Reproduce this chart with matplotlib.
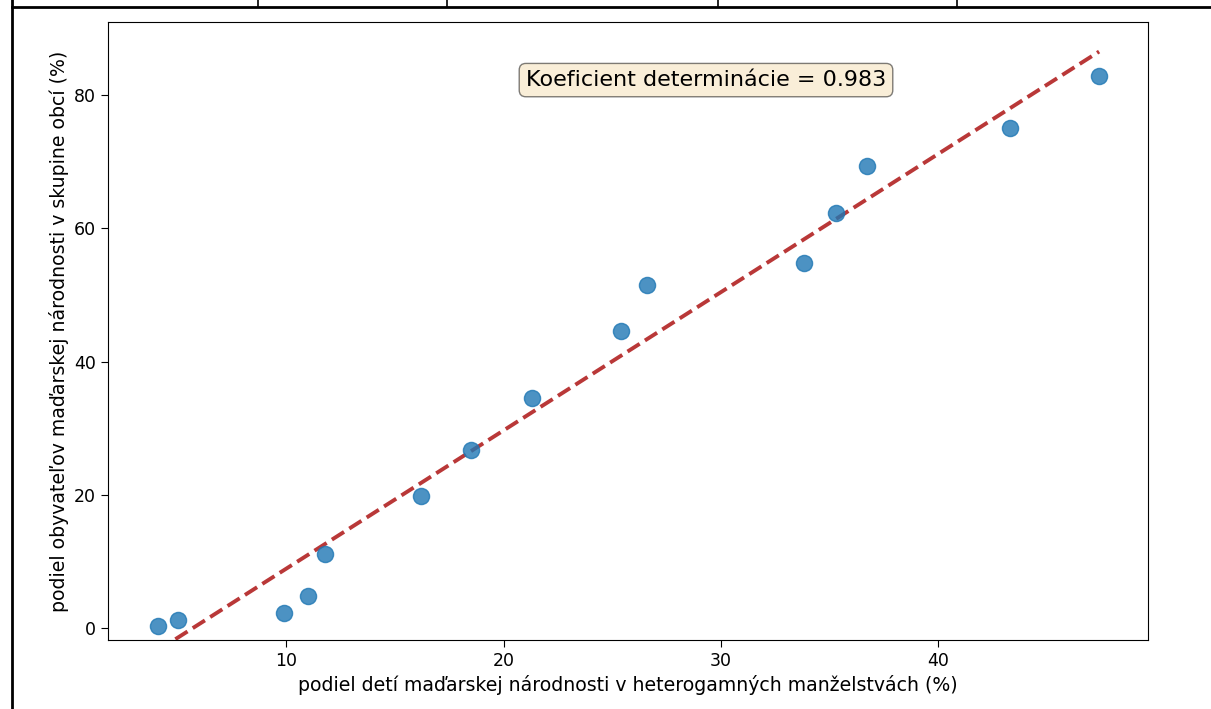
import matplotlib.pyplot as plt
from matplotlib.lines import Line2D
import numpy as np

# podiel detí maďarskej národnosti v heterogamných manželstvách (%)
deti = [4.1, 5.0, 9.9, 11.0, 11.8, 16.2, 18.5, 21.3, 25.4, 26.6, 33.8, 35.3, 36.7, 43.3, 47.4]
# podiel obyvateľov maďarskej národnosti v skupine obcí (%)
obyvatelia = [0.3, 1.2, 2.2, 4.8, 11.1, 19.8, 26.7, 34.5, 44.6, 51.5, 54.8, 62.3, 69.4, 75.1, 82.9]
r2 = 0.983

x = np.array(deti)
y = np.array(obyvatelia)
k, q = np.polyfit(x, y, 1)
xs = np.array([x.min(), x.max()])

fig = plt.figure(figsize=(12.11, 7.09), dpi=100)
ax = fig.add_axes([108/1211, 1 - 640/709, 1040/1211, 618/709])

ax.scatter(x, y, s=135, color='#1f77b4', alpha=0.8, zorder=3)
ax.plot(xs, k*xs + q, '--', color='#b22222', lw=2.8, alpha=0.9, zorder=2)

ax.set_xlim(1.8, 49.65)
ax.set_ylim(-1.8, 91)
ax.set_xticks([10, 20, 30, 40])
ax.set_yticks([0, 20, 40, 60, 80])
ax.tick_params(labelsize=12.5, length=5)
ax.set_xlabel('podiel detí maďarskej národnosti v heterogamných manželstvách (%)', fontsize=13.6)
ax.set_ylabel('podiel obyvateľov maďarskej národnosti v skupine obcí (%)', fontsize=13.6)

ax.text(0.575, 0.906, f'Koeficient determinácie = {r2}', transform=ax.transAxes,
        fontsize=16, ha='center', va='center',
        bbox=dict(boxstyle='round', facecolor='wheat', alpha=0.5))

# okraje tabuľky okolo grafu
W, H = 1211, 709
fig.add_artist(Line2D([12/W, 1], [1 - 7/H, 1 - 7/H], color='black', lw=2))
fig.add_artist(Line2D([12/W, 12/W], [0, 1], color='black', lw=2))
for px in [258, 447, 718, 957]:
    fig.add_artist(Line2D([px/W, px/W], [1 - 7/H, 1], color='black', lw=1.2))

fig.savefig('out.png', dpi=100)
